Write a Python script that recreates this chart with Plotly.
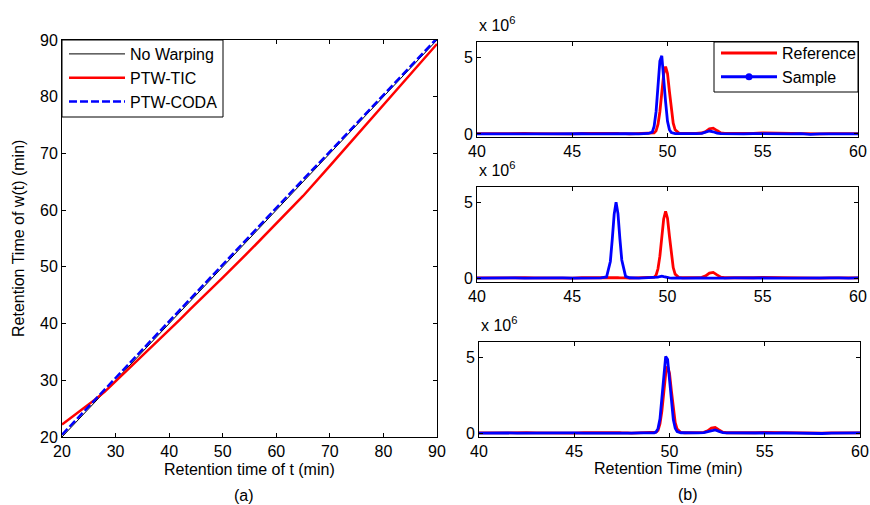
import plotly.graph_objects as go

# ---------------- data: panel (a) warping functions ----------------
t_warp = [20, 22, 24, 26, 28, 30, 32, 34, 36, 38, 40, 42, 44, 46, 48, 50,
          55, 60, 65, 70, 75, 80, 85, 90]
no_warping = [20, 22, 24, 26, 28, 30, 32, 34, 36, 38, 40, 42, 44, 46, 48, 50,
              55, 60, 65, 70, 75, 80, 85, 90]
ptw_tic = [22.2, 23.6, 25.0, 26.5, 28.0, 29.8, 31.6, 33.4, 35.2, 37.0, 38.8, 40.7,
           42.6, 44.4, 46.3, 48.1, 52.8, 57.6, 62.5, 67.8, 73.2, 78.6, 84.0, 89.3]
ptw_coda = [20.4, 22.4, 24.4, 26.4, 28.4, 30.4, 32.4, 34.5, 36.5, 38.5, 40.5, 42.5,
            44.5, 46.4, 48.4, 50.4, 55.4, 60.4, 65.4, 70.3, 75.3, 80.3, 85.3, 90.3]

# ---------------- data: panel (b) chromatograms (x 10^6) ----------------
rt = [40.0, 40.5, 41.0, 41.5, 42.0, 42.5, 43.0, 43.5, 44.0, 44.5, 45.0, 45.5, 46.0, 46.5,
      46.8, 47.0, 47.1, 47.2, 47.3, 47.4, 47.5, 47.6, 47.8, 48.0, 48.5, 49.0,
      49.2, 49.3, 49.4, 49.5, 49.6, 49.7, 49.8, 49.9, 50.0, 50.1, 50.2, 50.3, 50.4,
      50.6, 50.8, 51.0, 51.5, 51.8, 52.0, 52.2, 52.4, 52.6, 52.8, 53.0,
      53.5, 54.0, 54.5, 55.0, 55.5, 56.0, 56.5, 57.0, 57.5, 58.0, 58.5, 59.0, 59.5, 60.0]

reference = [0.02, 0.03, 0.01, 0.04, 0.02, 0.03, 0.02, 0.01, 0.03, 0.02, 0.01, 0.03, 0.04, 0.02,
             0.03, 0.02, 0.04, 0.03, 0.05, 0.03, 0.02, 0.03, 0.02, 0.01, 0.02, 0.02,
             0.04, 0.07, 0.20, 0.62, 1.45, 2.68, 3.90, 4.40, 3.95, 2.78, 1.55, 0.70, 0.27,
             0.05, 0.03, 0.02, 0.04, 0.06, 0.15, 0.33, 0.38, 0.22, 0.07, 0.03,
             0.02, 0.01, 0.03, 0.06, 0.05, 0.02, 0.01, 0.02, -0.02, 0.01, 0.02, 0.01, 0.03, 0.02]

sample_top = [0.01, 0.02, 0.00, 0.02, 0.01, 0.00, 0.02, 0.01, 0.00, 0.02, 0.01, 0.02, 0.00, 0.01,
              0.02, 0.01, 0.00, 0.02, 0.01, 0.02, 0.01, 0.00, 0.01, 0.02, 0.00, 0.03,
              0.12, 0.50, 1.45, 3.10, 4.75, 5.10, 3.85, 2.10, 0.82, 0.28, 0.09, 0.04, 0.02,
              0.02, 0.01, 0.02, 0.02, 0.04, 0.11, 0.19, 0.14, 0.05, 0.02, 0.01,
              0.02, 0.01, 0.02, 0.01, 0.02, 0.00, 0.01, 0.02, -0.03, 0.01, 0.02, 0.01, 0.02, 0.01]

sample_mid = [0.01, 0.02, 0.01, 0.00, 0.02, 0.01, 0.02, 0.00, 0.01, 0.02, 0.01, 0.00, 0.02, 0.02,
              0.08, 1.10, 2.55, 4.20, 5.00, 4.25, 2.60, 1.20, 0.12, 0.03, 0.01, 0.02,
              0.02, 0.03, 0.04, 0.07, 0.11, 0.13, 0.10, 0.06, 0.03, 0.02, 0.01, 0.02, 0.01,
              0.02, 0.01, 0.02, 0.01, 0.02, 0.01, 0.02, 0.02, 0.01, 0.02, 0.01,
              0.02, 0.01, 0.02, 0.01, 0.02, 0.01, 0.01, 0.02, 0.01, 0.02, 0.01, 0.02, 0.01, 0.02]

sample_bot = [0.01, 0.02, 0.01, 0.02, 0.00, 0.01, 0.02, 0.01, 0.02, 0.01, 0.02, 0.01, 0.00, 0.01,
              0.02, 0.01, 0.02, 0.01, 0.00, 0.01, 0.02, 0.01, 0.00, 0.01, 0.02, 0.02,
              0.03, 0.09, 0.32, 0.95, 2.18, 3.75, 5.05, 4.85, 3.55, 2.05, 0.90, 0.33, 0.11,
              0.03, 0.02, 0.01, 0.02, 0.04, 0.10, 0.20, 0.22, 0.12, 0.04, 0.02,
              0.01, 0.02, 0.01, 0.02, 0.01, 0.02, 0.01, 0.02, -0.03, -0.02, 0.01, 0.02, 0.01, 0.02]

warp_ticks = [20, 30, 40, 50, 60, 70, 80, 90]
rt_ticks = [40, 45, 50, 55, 60]
int_ticks = [0, 5]

# ---------------- layout helpers ----------------
W, H = 870, 505
FONT = "Arial, Liberation Sans, sans-serif"
RED = "#ff0000"
BLUE = "#0000ff"


def px(xp):
    return xp / W


def py(yp):
    return 1 - yp / H


fig = go.Figure()

# panel (a)
fig.add_trace(go.Scatter(x=t_warp, y=no_warping, mode="lines", name="No Warping",
                         line=dict(color="black", width=1), xaxis="x", yaxis="y", legend="legend"))
fig.add_trace(go.Scatter(x=t_warp, y=ptw_tic, mode="lines", name="PTW-TIC",
                         line=dict(color=RED, width=2.5), xaxis="x", yaxis="y", legend="legend"))
fig.add_trace(go.Scatter(x=t_warp, y=ptw_coda, mode="lines", name="PTW-CODA",
                         line=dict(color=BLUE, width=2.5, dash="8px,3px"), xaxis="x", yaxis="y",
                         legend="legend"))

# panel (b)
panels = [("x2", "y2", sample_top), ("x3", "y3", sample_mid), ("x4", "y4", sample_bot)]
for i, (xa, ya, samp) in enumerate(panels):
    fig.add_trace(go.Scatter(x=rt, y=reference, mode="lines", name="Reference",
                             line=dict(color=RED, width=2.8), xaxis=xa, yaxis=ya,
                             legend="legend2", showlegend=False))
    fig.add_trace(go.Scatter(x=rt, y=samp, mode="lines", name="Sample",
                             line=dict(color=BLUE, width=2.8), xaxis=xa, yaxis=ya,
                             legend="legend2", showlegend=False))

# legend entries for panel (b)
fig.add_trace(go.Scatter(x=[None], y=[None], mode="lines", name="Reference",
                         line=dict(color=RED, width=3), xaxis="x2", yaxis="y2",
                         legend="legend2", showlegend=True))
fig.add_trace(go.Scatter(x=[None], y=[None], mode="lines+markers", name="Sample",
                         line=dict(color=BLUE, width=3), marker=dict(color=BLUE, size=7),
                         xaxis="x2", yaxis="y2", legend="legend2", showlegend=True))

axis_common = dict(showline=True, linecolor="black", linewidth=1, mirror="allticks",
                   ticks="inside", ticklen=4, tickcolor="black", showgrid=False,
                   zeroline=False, automargin=False,
                   tickfont=dict(family=FONT, size=16, color="black"))

CLEAR = "rgba(0,0,0,0)"

layout = dict(
    width=W, height=H, autosize=False,
    margin=dict(l=0, r=0, t=0, b=0, pad=0, autoexpand=False),
    paper_bgcolor="white", plot_bgcolor="white",
    font=dict(family=FONT, color="black", size=16),
    xaxis=dict(domain=[px(62), px(437)], range=[20, 90], tickvals=warp_ticks, anchor="y",
               **axis_common),
    yaxis=dict(domain=[py(437), py(40)], range=[20, 90], tickvals=warp_ticks, anchor="x",
               **axis_common),
    xaxis2=dict(domain=[px(477), px(858)], range=[40, 60], tickvals=rt_ticks, anchor="y2",
                **axis_common),
    yaxis2=dict(domain=[py(137), py(42)], range=[-0.2, 6], tickvals=int_ticks, anchor="x2",
                **axis_common),
    xaxis3=dict(domain=[px(477), px(858)], range=[40, 60], tickvals=rt_ticks, anchor="y3",
                **axis_common),
    yaxis3=dict(domain=[py(282), py(187)], range=[-0.25, 6], tickvals=int_ticks, anchor="x3",
                **axis_common),
    xaxis4=dict(domain=[px(479), px(860)], range=[40, 60], tickvals=rt_ticks, anchor="y4",
                **axis_common),
    yaxis4=dict(domain=[py(437), py(342)], range=[-0.25, 6], tickvals=int_ticks, anchor="x4",
                **axis_common),
    legend=dict(x=px(64), y=py(37), xanchor="left", yanchor="top", bgcolor=CLEAR,
                borderwidth=0, font=dict(family=FONT, size=16),
                tracegroupgap=0, itemwidth=56),
    legend2=dict(x=px(716), y=py(36), xanchor="left", yanchor="top", bgcolor=CLEAR,
                 borderwidth=0, font=dict(family=FONT, size=16),
                 tracegroupgap=0, itemwidth=56),
    showlegend=True,
)
fig.update_layout(**layout)

# legend frames
for (x0, y0, x1, y1) in [(62, 40, 223, 117), (714, 42, 858, 92)]:
    fig.add_shape(type="rect", xref="paper", yref="paper",
                  x0=px(x0), x1=px(x1), y0=py(y1), y1=py(y0),
                  line=dict(color="black", width=1), fillcolor="white", layer="above")

annotations = [
    dict(text="Retention time of t (min)", x=px(249), y=py(469)),
    dict(text="(a)", x=px(244), y=py(495)),
    dict(text="Retention Time of w(t) (min)", x=px(18), y=py(239), textangle=-90),
    dict(text="Retention Time (min)", x=px(668), y=py(468)),
    dict(text="(b)", x=px(688), y=py(494)),
]
for a in annotations:
    fig.add_annotation(xref="paper", yref="paper", showarrow=False,
                       xanchor="center", yanchor="middle",
                       font=dict(family=FONT, size=16, color="black"), **a)

for ytop, xl in [(42, 477), (187, 477), (342, 479)]:
    fig.add_annotation(xref="paper", yref="paper", showarrow=False,
                       text="x 10<sup>6</sup>", x=px(xl), y=py(ytop - 6),
                       xanchor="left", yanchor="bottom",
                       font=dict(family=FONT, size=16, color="black"))

fig.write_html("out.html",
               post_script="document.body.style.margin='0';document.body.style.padding='0';"
                           "document.body.style.overflow='hidden';")
